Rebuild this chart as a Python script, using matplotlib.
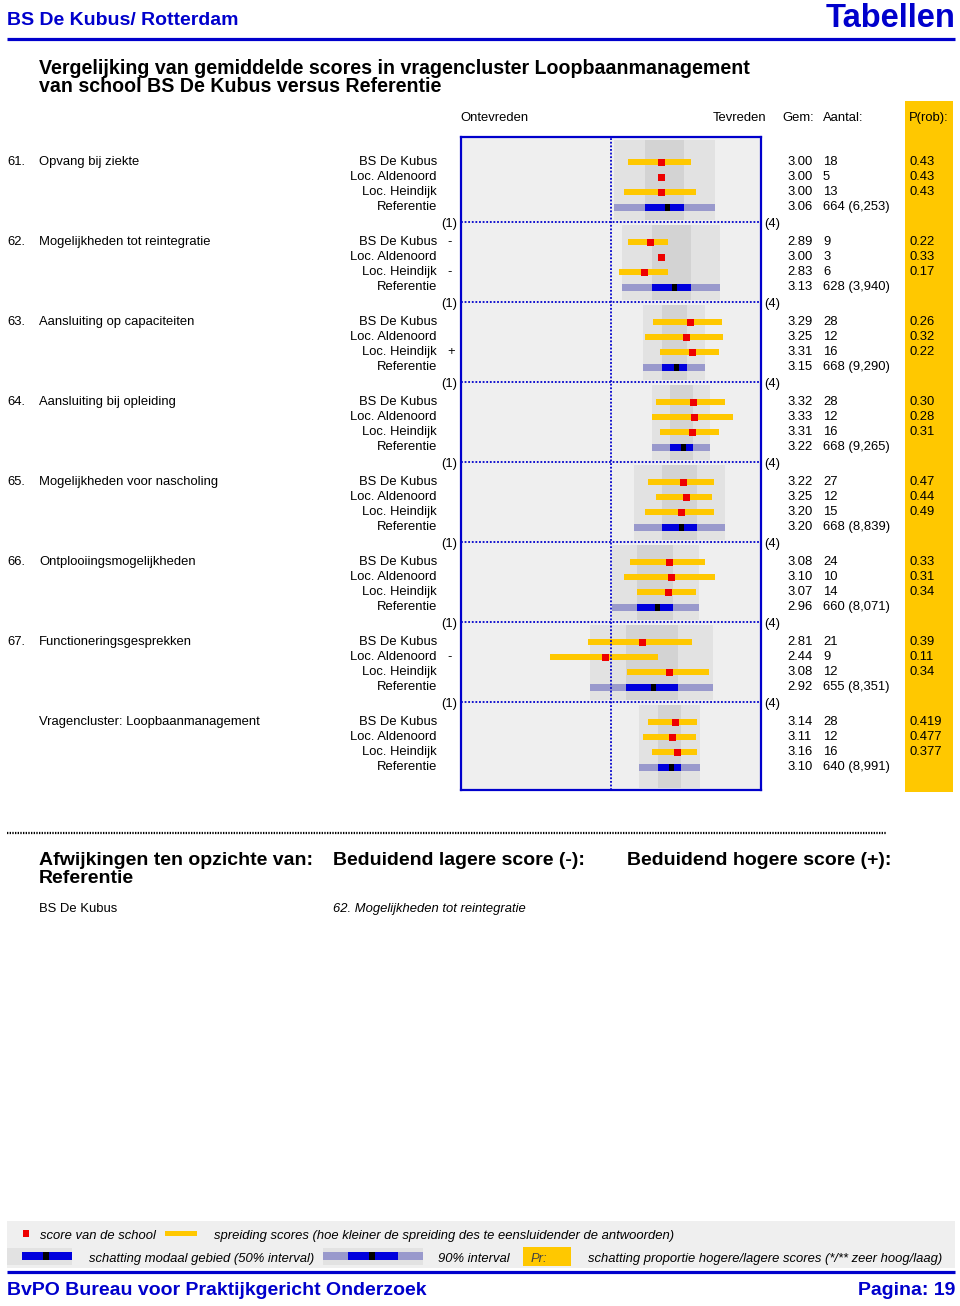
import matplotlib
matplotlib.use("Agg")
import matplotlib.pyplot as plt
from matplotlib.patches import Rectangle

plt.rcParams['font.family'] = ['Liberation Sans', 'DejaVu Sans']

# ---- data ----
item_nrs = ["61.", "62.", "63.", "64.", "65.", "66.", "67.", ""]
item_names = ["Opvang bij ziekte", "Mogelijkheden tot reintegratie",
              "Aansluiting op capaciteiten", "Aansluiting bij opleiding",
              "Mogelijkheden voor nascholing", "Ontplooiingsmogelijkheden",
              "Functioneringsgesprekken", "Vragencluster: Loopbaanmanagement"]
groups = ["BS De Kubus", "Loc. Aldenoord", "Loc. Heindijk", "Referentie"]

gem = [[3.00, 3.00, 3.00, 3.06],
       [2.89, 3.00, 2.83, 3.13],
       [3.29, 3.25, 3.31, 3.15],
       [3.32, 3.33, 3.31, 3.22],
       [3.22, 3.25, 3.20, 3.20],
       [3.08, 3.10, 3.07, 2.96],
       [2.81, 2.44, 3.08, 2.92],
       [3.14, 3.11, 3.16, 3.10]]
aantal = [["18", "5", "13", "664 (6,253)"],
          ["9", "3", "6", "628 (3,940)"],
          ["28", "12", "16", "668 (9,290)"],
          ["28", "12", "16", "668 (9,265)"],
          ["27", "12", "15", "668 (8,839)"],
          ["24", "10", "14", "660 (8,071)"],
          ["21", "9", "12", "655 (8,351)"],
          ["28", "12", "16", "640 (8,991)"]]
prob = [["0.43", "0.43", "0.43"],
        ["0.22", "0.33", "0.17"],
        ["0.26", "0.32", "0.22"],
        ["0.30", "0.28", "0.31"],
        ["0.47", "0.44", "0.49"],
        ["0.33", "0.31", "0.34"],
        ["0.39", "0.11", "0.34"],
        ["0.419", "0.477", "0.377"]]
signs = [["", "", ""], ["-", "", "-"], ["", "", "+"], ["", "", ""],
         ["", "", ""], ["", "", ""], ["", "-", ""], ["", "", ""]]

# spreiding (yellow bars) per school row, None = no bar
spread_lo = [[2.67, None, 2.63], [2.67, None, 2.58], [2.92, 2.84, 2.99],
             [2.95, 2.91, 2.99], [2.87, 2.95, 2.84], [2.69, 2.63, 2.76],
             [2.27, 1.89, 2.66], [2.87, 2.82, 2.91]]
spread_hi = [[3.30, None, 3.35], [3.07, None, 3.07], [3.61, 3.62, 3.58],
             [3.64, 3.72, 3.58], [3.53, 3.51, 3.53], [3.44, 3.54, 3.35],
             [3.31, 2.97, 3.48], [3.36, 3.35, 3.36]]

# referentie intervals
ref_p05 = [2.53, 2.61, 2.82, 2.91, 2.73, 2.51, 2.29, 2.78]
ref_p25 = [2.84, 2.91, 3.01, 3.09, 3.01, 2.76, 2.65, 2.97]
ref_p75 = [3.23, 3.30, 3.26, 3.32, 3.36, 3.12, 3.17, 3.20]
ref_p95 = [3.54, 3.59, 3.44, 3.49, 3.64, 3.38, 3.52, 3.39]

afwijking_school = "BS De Kubus"
afwijking_lager = "62. Mogelijkheden tot reintegratie"

# ---- colours ----
BLUE = '#0000cc'
YELLOW = '#ffc800'
RED = '#ee0000'
BOX_BG = '#efefef'
BAND_LIGHT = '#e2e2e2'
BAND_DARK = '#d3d3d3'
REF_LIGHT = '#9999cc'
REF_BLUE = '#0000dd'

FS = 9.4

fig = plt.figure(figsize=(9.6, 13.06), dpi=100)

# overlay axes in pixel units for the page layout
ov = fig.add_axes([0, 0, 1, 1], zorder=0)
ov.set_xlim(0, 960)
ov.set_ylim(1306, 0)
ov.axis('off')


def txt(x, yc, s, size=FS, **kw):
    # yc = visual centre of the capitals, in page pixels
    ov.text(x, yc + 0.358 * size * 100 / 72, s, fontsize=size, va='baseline', **kw)


# chart box: x = score 1..4, y in page pixels
top_px, bot_px = 137, 790
ax = fig.add_axes([461 / 960, 1 - bot_px / 1306, 300 / 960, (bot_px - top_px) / 1306], zorder=2)
ax.set_xlim(1, 4)
ax.set_ylim(bot_px, top_px)
ax.set_facecolor(BOX_BG)
ax.set_xticks([])
ax.set_yticks([])
for sp in ax.spines.values():
    sp.set_color(BLUE)
    sp.set_linewidth(1.6)

ROW0, GROUP_H, ROW_H = 161, 80, 15


def row_y(i, j):
    return ROW0 + GROUP_H * i + ROW_H * j


bounds = [top_px] + [222 + GROUP_H * k for k in range(len(gem) - 1)] + [bot_px]

for i in range(len(gem)):
    b_top = bounds[i] + 2.5
    b_bot = bounds[i + 1] - 2.5
    yc = (b_top + b_bot) / 2
    ax.barh(yc, ref_p95[i] - ref_p05[i], left=ref_p05[i], height=b_bot - b_top,
            color=BAND_LIGHT, zorder=1)
    ax.barh(yc, ref_p75[i] - ref_p25[i], left=ref_p25[i], height=b_bot - b_top,
            color=BAND_DARK, zorder=1)
    for j in range(3):
        y = row_y(i, j) + 1
        if spread_lo[i][j] is not None:
            ax.barh(y, spread_hi[i][j] - spread_lo[i][j], left=spread_lo[i][j],
                    height=6, color=YELLOW, zorder=3)
        ax.barh(y, 0.07, left=gem[i][j] - 0.035, height=7, color=RED, zorder=4)
    y = row_y(i, 3) + 1
    ax.barh(y, ref_p95[i] - ref_p05[i], left=ref_p05[i], height=7, color=REF_LIGHT, zorder=3)
    ax.barh(y, ref_p75[i] - ref_p25[i], left=ref_p25[i], height=7, color=REF_BLUE, zorder=3)
    ax.barh(y, 0.05, left=gem[i][3] - 0.025, height=7, color='black', zorder=4)

for b in bounds[1:-1]:
    ax.axhline(b, color=BLUE, lw=1.3, ls=(0, (1, 1)), zorder=5)
ax.axvline(2.5, color=BLUE, lw=1.3, ls=(0, (1, 1)), zorder=5)

# ---- page header ----
txt(7, 18, "BS De Kubus/ Rotterdam", size=14, color=BLUE, fontweight='bold')
txt(955, 15, "Tabellen", size=23.5, color=BLUE, fontweight='bold', ha='right')
ov.plot([7, 955], [38.5, 38.5], color=BLUE, lw=2.3, solid_capstyle='butt')

txt(39, 67, "Vergelijking van gemiddelde scores in vragencluster Loopbaanmanagement",
    size=14.1, fontweight='bold')
txt(39, 85, "van school BS De Kubus versus Referentie", size=14.1, fontweight='bold')

# P(rob) column
ov.add_patch(Rectangle((905, 101), 48, 691, color=YELLOW, lw=0, zorder=0))

txt(460, 116, "Ontevreden")
txt(766, 116, "Tevreden", ha='right')
txt(782, 116, "Gem:")
txt(823, 116, "Aantal:")
txt(909, 116, "P(rob):")

for i in range(len(gem)):
    y0 = row_y(i, 0) - 0.5
    txt(7, y0, item_nrs[i])
    txt(39, y0, item_names[i])
    for j in range(4):
        y = row_y(i, j) - 0.5
        txt(437, y, groups[j], ha='right')
        txt(787, y, "%.2f" % gem[i][j])
        txt(823, y, aantal[i][j])
        if j < 3:
            txt(909, y, prob[i][j])
            if signs[i][j]:
                txt(447, y, signs[i][j])
    if i < len(gem) - 1:
        txt(457, bounds[i + 1], "(1)", ha='right')
        txt(764, bounds[i + 1], "(4)")

# ---- afwijkingen ----
ov.plot([7, 887], [833, 833], color='black', lw=1.6, ls=(0, (0.6, 0.6)))
txt(39, 858, "Afwijkingen ten opzichte van:", size=14, fontweight='bold')
txt(39, 876, "Referentie", size=14, fontweight='bold')
txt(333, 858, "Beduidend lagere score (-):", size=14, fontweight='bold')
txt(627, 858, "Beduidend hogere score (+):", size=14, fontweight='bold')
txt(39, 907, afwijking_school)
txt(333, 907, afwijking_lager, style='italic')

# ---- legend panel ----
ov.add_patch(Rectangle((7, 1221), 948, 47, color=BOX_BG, lw=0, zorder=0))
ov.add_patch(Rectangle((23, 1230), 6, 7, color=RED, lw=0))
txt(40, 1234, "score van de school", style='italic')
ov.add_patch(Rectangle((165, 1231), 32, 5, color=YELLOW, lw=0))
txt(214, 1234, "spreiding scores (hoe kleiner de spreiding des te eensluidender de antwoorden)",
    style='italic')

ov.add_patch(Rectangle((7, 1248), 65, 17, color=BAND_LIGHT, lw=0))
ov.add_patch(Rectangle((22, 1252), 50, 8, color=REF_BLUE, lw=0))
ov.add_patch(Rectangle((43, 1252), 6, 8, color='black', lw=0))
txt(89, 1257, "schatting modaal gebied (50% interval)", style='italic')
ov.add_patch(Rectangle((323, 1248), 100, 17, color=BAND_LIGHT, lw=0))
ov.add_patch(Rectangle((323, 1252), 100, 8, color=REF_LIGHT, lw=0))
ov.add_patch(Rectangle((348, 1252), 50, 8, color=REF_BLUE, lw=0))
ov.add_patch(Rectangle((369, 1252), 6, 8, color='black', lw=0))
txt(438, 1257, "90% interval", style='italic')
ov.add_patch(Rectangle((523, 1247), 48, 19, color=YELLOW, lw=0))
txt(531, 1257, "Pr:", style='italic', color='#444444')
txt(588, 1257, "schatting proportie hogere/lagere scores (*/** zeer hoog/laag)", style='italic')

# ---- footer ----
ov.plot([7, 955], [1272, 1272], color=BLUE, lw=2.3, solid_capstyle='butt')
txt(7, 1288, "BvPO Bureau voor Praktijkgericht Onderzoek", size=14, color=BLUE, fontweight='bold')
txt(955, 1288, "Pagina: 19", size=14, color=BLUE, fontweight='bold', ha='right')

fig.savefig("out.png", dpi=100)
